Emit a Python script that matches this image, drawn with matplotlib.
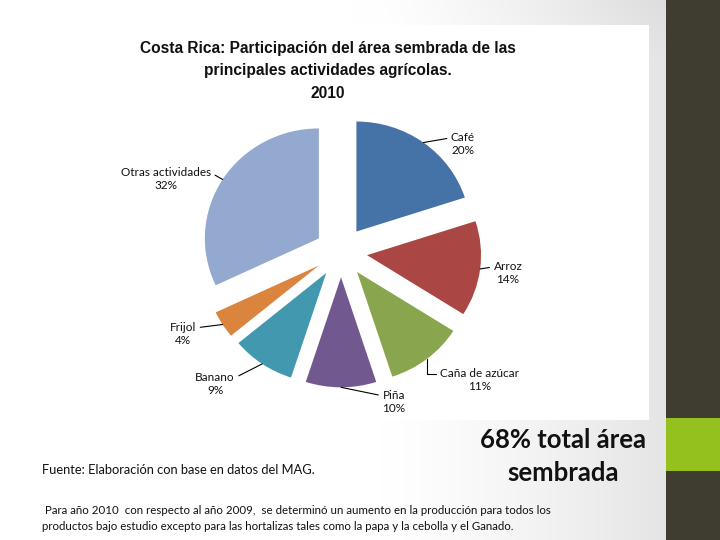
import numpy as np
import matplotlib
matplotlib.use("Agg")
import matplotlib.pyplot as plt
from matplotlib.patches import Rectangle

# ---- data ----
categories = ["Café", "Arroz", "Caña de azúcar", "Piña", "Banano", "Frijol", "Otras actividades"]
shares = [20, 14, 11, 10, 9, 4, 32]
colors = ["#4572A7", "#AA4643", "#89A54E", "#71588F", "#4198AF", "#DB843D", "#93A9CF"]
title_lines = ["Costa Rica: Participación del área sembrada de las",
               "principales actividades agrícolas.",
               "2010"]
source_text = "Fuente: Elaboración con base en datos del MAG."
big_text = ["68% total área", "sembrada"]
para_lines = [" Para año 2010  con respecto al año 2009,  se determinó un aumento en la producción para todos los",
              "productos bajo estudio excepto para las hortalizas tales como la papa y la cebolla y el Ganado."]

W, H = 720, 540
fig = plt.figure(figsize=(W / 100, H / 100), dpi=100)

# ---- slide background ----
bg = fig.add_axes([0, 0, 1, 1], zorder=0)
xx, yy = np.meshgrid(np.arange(W), np.arange(H))
v = 1 - 0.10 * np.clip((xx - 380) / 280.0, 0, 1) ** 1.3 - 0.03 * np.clip((60 - yy) / 60.0, 0, 1) * np.clip((xx - 350) / 300, 0, 1)
bg.imshow(np.dstack([v, v, v]), extent=(0, W, H, 0), aspect="auto")
bg.set_xlim(0, W); bg.set_ylim(H, 0); bg.axis("off")
# chart image white box
bg.add_patch(Rectangle((98, 25), 551, 395, facecolor="white", edgecolor="none"))
# right dark bar and green block
bg.add_patch(Rectangle((666, 0), 54, 540, facecolor="#3e3d2f", edgecolor="none"))
bg.add_patch(Rectangle((666, 418), 54, 53, facecolor="#95c11f", edgecolor="none"))

# ---- pie ----
CX, CY, SX, SY = 341.0, 252.0, 114.0, 110.0
def P(px, py):
    return ((px - CX) / SX, (CY - py) / SY)

ax = fig.add_axes([0, 0, 1, 1], zorder=1)
ax.patch.set_alpha(0)
wedges, _ = ax.pie(shares, colors=colors, startangle=90, counterclock=False,
                   explode=[0.23] * len(shares), radius=1, center=(0, 0),
                   wedgeprops=dict(linewidth=0))
ax.set_aspect("auto")
ax.set_xlim(P(0, 0)[0], P(W, 0)[0])
ax.set_ylim(P(0, H)[1], P(0, 0)[1])
ax.axis("off")

label_pos = [(463, 144), (508, 273), (480, 380), (394, 402), (215, 384), (183, 334), (166, 179)]
relpos = [(0, 0.75), (0, 0.75), (0, 0.75), (0, 0.75), (1, 0.75), (1, 0.75), (1, 0.75)]
conn = ["arc3", "arc3", "angle,angleA=0,angleB=90,rad=0", "arc3", "arc3", "arc3", "arc3"]
lab_font = ["Lato", "DejaVu Sans"]
for i, w in enumerate(wedges):
    mid = np.deg2rad((w.theta1 + w.theta2) / 2)
    xy = (w.center[0] + w.r * np.cos(mid), w.center[1] + w.r * np.sin(mid))
    ax.annotate(f"{categories[i]}\n{shares[i]}%", xy=xy, xytext=P(*label_pos[i]),
                ha="center", va="center", fontsize=8.5, family=lab_font, color="#111111",
                linespacing=1.3,
                arrowprops=dict(arrowstyle="-", color="black", lw=0.8, shrinkA=1, shrinkB=0,
                                relpos=relpos[i], connectionstyle=conn[i]))

# ---- title ----
tfont = ["Liberation Sans", "DejaVu Sans"]
for k, (line, y) in enumerate(zip(title_lines, [48, 71, 94])):
    fig.text(328 / W, 1 - y / H, line, ha="center", va="center", fontsize=11.2,
             fontweight="bold", family=tfont, color="#111111")

# ---- bottom texts ----
fig.text(42 / W, 1 - 470 / H, source_text, ha="left", va="center", fontsize=9.3,
         family=lab_font, color="#111111")
for line, y in zip(big_text, [440, 473]):
    fig.text(563 / W, 1 - y / H, line, ha="center", va="center", fontsize=18.5,
             fontweight="bold", family=lab_font, color="#111111")
for line, (x, y) in zip(para_lines, [(42, 510), (42, 527)]):
    fig.text(x / W, 1 - y / H, line, ha="left", va="center", fontsize=8.3,
             family=lab_font, color="#111111")

fig.savefig("out.png", dpi=100)
